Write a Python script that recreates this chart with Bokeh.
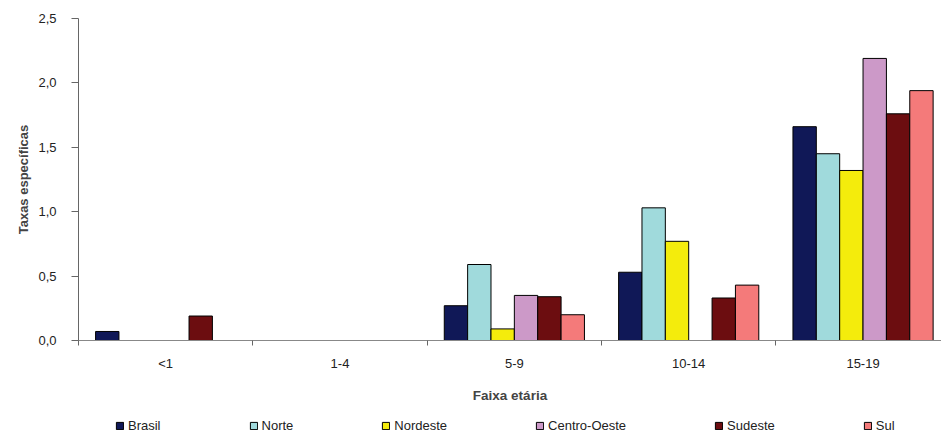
from bokeh.plotting import figure
from bokeh.layouts import column
from bokeh.models import (ColumnDataSource, FixedTicker, CustomJSTickFormatter, Legend,
                          LegendItem, Range1d)
from bokeh.embed import file_html
from bokeh.resources import INLINE

groups = ["<1", "1-4", "5-9", "10-14", "15-19"]
series = ["Brasil", "Norte", "Nordeste", "Centro-Oeste", "Sudeste", "Sul"]
brasil = [0.07, 0.0, 0.27, 0.53, 1.66]
norte = [0.0, 0.0, 0.59, 1.03, 1.45]
nordeste = [0.0, 0.0, 0.09, 0.77, 1.32]
centro_oeste = [0.0, 0.0, 0.35, 0.0, 2.19]
sudeste = [0.19, 0.0, 0.34, 0.33, 1.76]
sul = [0.0, 0.0, 0.20, 0.43, 1.94]
y_ticks = [0.0, 0.5, 1.0, 1.5, 2.0, 2.5]

values = [brasil, norte, nordeste, centro_oeste, sudeste, sul]
colors = ["#101857", "#A0DADC", "#F4EC0C", "#CC99C8", "#6C0D10", "#F47A7A"]

FONT = "Liberation Sans"
BW = 0.134

p = figure(width=941, height=405, output_backend="svg", toolbar_location=None,
           x_range=Range1d(0, 4.95), y_range=Range1d(0, 2.5),
           min_border_left=78, min_border_top=18, min_border_right=0,
           min_border_bottom=57)
p.outline_line_color = None
p.xgrid.grid_line_color = None
p.ygrid.grid_line_color = None

# legend strip (shares the series sources; its ranges keep the bars off-canvas)
q = figure(width=941, height=28, output_backend="svg", toolbar_location=None,
           x_range=Range1d(1000, 1001), y_range=Range1d(1000, 1001),
           min_border_left=0, min_border_top=0, min_border_right=0, min_border_bottom=0)
q.outline_line_color = None
q.xaxis.visible = False
q.yaxis.visible = False
q.xgrid.grid_line_color = None
q.ygrid.grid_line_color = None

items = []
for i, (name, vals, col) in enumerate(zip(series, values, colors)):
    xs = [g + 0.5 + (i - 2.5) * BW for g, v in enumerate(vals) if v > 0]
    ts = [v for v in vals if v > 0]
    src = ColumnDataSource(dict(x=xs, top=ts))
    p.vbar(x="x", top="top", bottom=0, width=BW, source=src, fill_color=col,
           line_color="black", line_width=1)
    r = q.vbar(x="x", top="top", bottom=0, width=BW, source=src, fill_color=col,
               line_color="black", line_width=1)
    items.append(LegendItem(label=name, renderers=[r]))

# y axis
p.yaxis.ticker = FixedTicker(ticks=y_ticks)
p.yaxis.formatter = CustomJSTickFormatter(code="return tick.toFixed(1).replace('.', ',');")
p.yaxis.axis_label = "Taxas específicas"
p.yaxis.axis_label_text_font = FONT
p.yaxis.axis_label_text_font_style = "bold"
p.yaxis.axis_label_text_font_size = "13px"
p.yaxis.axis_label_standoff = 4
p.yaxis.major_label_text_font = FONT
p.yaxis.major_label_text_font_size = "13px"
p.yaxis.major_label_text_color = "#222222"
p.yaxis.major_tick_in = 0
p.yaxis.major_tick_out = 7
p.yaxis.minor_tick_line_color = None
p.yaxis.axis_line_color = "#666666"
p.yaxis.major_tick_line_color = "#666666"
p.yaxis.major_label_standoff = 15

# x axis
p.xaxis.ticker = FixedTicker(ticks=[g + 0.5 for g in range(len(groups))],
                             minor_ticks=list(range(len(groups))))
p.xaxis.formatter = CustomJSTickFormatter(args=dict(labels=groups),
                                          code="return labels[Math.floor(tick)];")
p.xaxis.axis_label = "Faixa etária"
p.xaxis.axis_label_text_font = FONT
p.xaxis.axis_label_text_font_style = "bold"
p.xaxis.axis_label_text_font_size = "13.5px"
p.xaxis.axis_label_standoff = 14
p.xaxis.major_label_text_font = FONT
p.xaxis.major_label_text_font_size = "13px"
p.xaxis.major_label_text_color = "#222222"
p.xaxis.major_tick_in = 0
p.xaxis.major_tick_out = 0
p.xaxis.minor_tick_in = 0
p.xaxis.minor_tick_out = 5
p.xaxis.minor_tick_line_color = "#666666"
p.xaxis.axis_line_color = "#888888"
p.xaxis.major_label_standoff = 10

legend = Legend(items=items, orientation="horizontal", location=(37, 0),
                glyph_width=9, glyph_height=9, label_standoff=4, spacing=88,
                padding=0, margin=0, border_line_color=None,
                label_text_font=FONT, label_text_font_size="13px",
                label_text_color="#222222", background_fill_alpha=0)
q.add_layout(legend, "center")

open("out.html", "w").write(file_html(column(p, q, spacing=0), INLINE))
